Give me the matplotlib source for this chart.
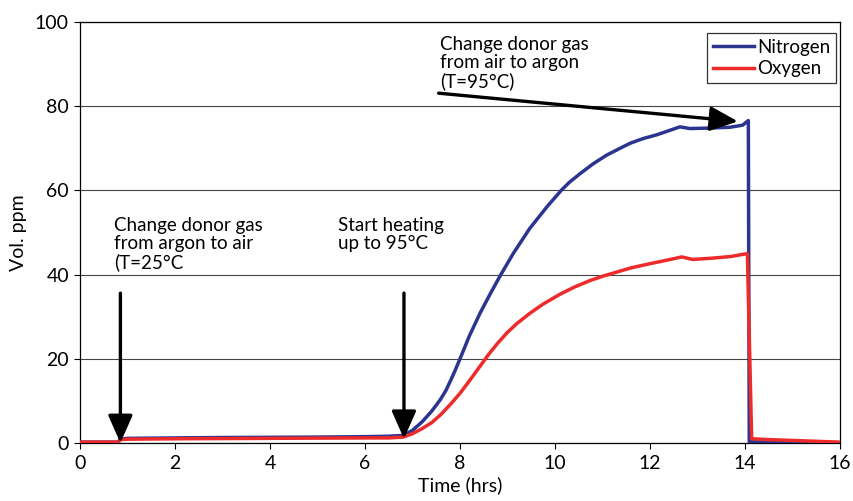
import matplotlib
matplotlib.use("Agg")
import matplotlib.pyplot as plt

plt.rcParams['font.family'] = ['Lato', 'DejaVu Sans']

# Time (hrs) and concentrations (vol. ppm)
n_time = [0, 0.8, 0.85, 1.0, 2.0, 3.0, 4.0, 5.0, 6.0, 6.5, 6.8, 7.0, 7.2, 7.4, 7.58, 7.7,
          7.8, 7.9, 8.0, 8.2, 8.42, 8.63, 8.86, 9.12, 9.47, 9.83, 10.13, 10.3, 10.53, 10.8,
          11.09, 11.35, 11.58, 11.85, 12.14, 12.45, 12.63, 12.84, 13.2, 13.68, 13.95, 14.07,
          14.09, 14.5, 15.0, 16.0]
n_vals = [0.2, 0.2, 0.9, 1.1, 1.2, 1.3, 1.35, 1.4, 1.5, 1.6, 1.8, 3.0, 5.0, 7.5, 10.2, 12.4,
          14.8, 17.3, 20.0, 25.5, 30.8, 35.3, 40.0, 45.0, 51.0, 56.1, 60.0, 61.9, 64.0, 66.3,
          68.4, 69.9, 71.2, 72.3, 73.2, 74.4, 75.1, 74.7, 74.8, 75.0, 75.5, 76.6,
          0.3, 0.2, 0.1, 0.0]

o_time = [0, 0.8, 0.85, 1.0, 2.0, 4.0, 6.0, 6.5, 6.8, 7.0, 7.2, 7.4, 7.6, 7.8,
          8.0, 8.2, 8.4, 8.6, 8.8, 9.0, 9.2, 9.47, 9.75, 10.1, 10.4, 10.74, 11.0, 11.3,
          11.6, 12.0, 12.3, 12.67, 12.9, 13.3, 13.7, 14.05, 14.14, 14.5, 15.0, 15.5, 16.0]
o_vals = [0.2, 0.2, 0.8, 0.9, 1.0, 1.1, 1.2, 1.2, 1.4, 2.2, 3.4, 4.8, 6.8, 9.2,
          11.8, 14.8, 17.9, 21.0, 23.8, 26.3, 28.4, 30.8, 33.0, 35.3, 37.0, 38.6, 39.6, 40.6,
          41.6, 42.6, 43.3, 44.2, 43.6, 43.9, 44.3, 45.0, 1.0, 0.8, 0.6, 0.4, 0.2]

x_ticks = [0, 2, 4, 6, 8, 10, 12, 14, 16]
y_ticks = [0, 20, 40, 60, 80, 100]

fig = plt.figure(figsize=(8.54, 5.01), dpi=100)
ax = fig.add_axes([0.0937, 0.1158, 0.8899, 0.8402])

ax.plot(n_time, n_vals, color='#2B3590', lw=2.5, label='Nitrogen', zorder=3)
ax.plot(o_time, o_vals, color='#EE2A2A', lw=2.5, label='Oxygen', zorder=4)

ax.set_xlim(0, 16)
ax.set_ylim(0, 100)
ax.set_xticks(x_ticks)
ax.set_yticks(y_ticks)
ax.tick_params(direction='out', length=4, width=0.8, labelsize=14, colors='black')
ax.tick_params(axis='x', pad=5)
ax.tick_params(axis='y', pad=4)
for s in ax.spines.values():
    s.set_linewidth(0.9)
    s.set_color('black')
ax.yaxis.grid(True, color='#444444', lw=0.8)
ax.set_axisbelow(True)

ax.set_xlabel('Time (hrs)', fontsize=14, labelpad=3)
ax.set_ylabel('Vol. ppm', fontsize=14, labelpad=6)

leg = ax.legend(loc='upper right', bbox_to_anchor=(0.9947, 0.9739), fontsize=13.5,
                frameon=True, fancybox=False, borderpad=0.3, handlelength=2.2,
                handletextpad=0.15, labelspacing=0.25, borderaxespad=0.0)
leg.get_frame().set_edgecolor('black')
leg.get_frame().set_linewidth(0.9)

txt_kw = dict(fontsize=13.5, va='top', ha='left', linespacing=1.05)
ax.text(0.72, 53.6, 'Change donor gas\nfrom argon to air\n(T=25°C', **txt_kw)
ax.text(5.43, 53.6, 'Start heating\nup to 95°C', **txt_kw)
ax.text(7.58, 96.6, 'Change donor gas\nfrom air to argon\n(T=95°C)', **txt_kw)

arrow_kw = dict(arrowstyle='-|>,head_length=1.7,head_width=0.75', color='black', lw=2.4,
                shrinkA=0, shrinkB=0)
ax.annotate('', xy=(0.85, 0.0), xytext=(0.85, 35.6), arrowprops=arrow_kw, zorder=6)
ax.annotate('', xy=(6.82, 1.0), xytext=(6.82, 35.6), arrowprops=arrow_kw, zorder=6)
ax.annotate('', xy=(13.85, 76.4), xytext=(7.55, 83.1), arrowprops=arrow_kw, zorder=6)

fig.savefig('out.png', dpi=100)
